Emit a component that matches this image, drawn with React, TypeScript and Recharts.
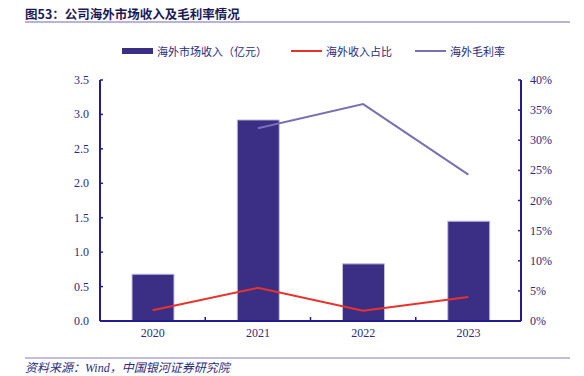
import React from 'react';
import { ComposedChart, Bar, Line, XAxis, YAxis } from 'recharts';

// 年份
const years = ['2020', '2021', '2022', '2023'];
// 海外市场收入（亿元）
const overseasRevenue = [0.68, 2.92, 0.83, 1.45];
// 海外收入占比 (%)
const overseasShare = [1.8, 5.5, 1.7, 4.0];
// 海外毛利率 (%)
const overseasMargin: (number | null)[] = [null, 32.0, 36.0, 24.3];

const leftTicks = [0, 0.5, 1, 1.5, 2, 2.5, 3, 3.5];
const rightTicks = [0, 5, 10, 15, 20, 25, 30, 35, 40];

const BAR_COLOR = '#3a2f85';
const RED = '#e8322c';
const PURPLE = '#7b70b3';
const AXIS = '#241c8a';
const TEXT = '#2b2a7c';
const CJK = '"Noto Sans CJK SC", sans-serif';
const NUM = '"Liberation Serif", "DejaVu Serif", serif';

const CHART_W = 584;
const CHART_H = 376;
const margin = { top: 80, right: 0, bottom: 25, left: 0 };
const LEFT_W = 100;
const RIGHT_W = 63;
const band = (CHART_W - LEFT_W - RIGHT_W) / years.length;

const data = years.map((y, i) => ({
    year: y,
    revenue: overseasRevenue[i],
    share: overseasShare[i],
    gm: overseasMargin[i],
}));

const legendItems = [
    { name: '海外市场收入（亿元）', color: BAR_COLOR, type: 'bar' },
    { name: '海外收入占比', color: RED, type: 'line' },
    { name: '海外毛利率', color: PURPLE, type: 'line' },
];

const numStyle = { fontFamily: NUM, fontSize: 12 };

const LeftTick = (props: any) => {
    const { x, y, payload } = props;
    return (
        <g>
            <line x1={x} x2={x + 3} y1={y} y2={y} stroke={AXIS} strokeWidth={1.5} />
            <text x={x - 11} y={y} textAnchor="end" dominantBaseline="central" fill={TEXT} style={numStyle}>
                {Number(payload.value).toFixed(1)}
            </text>
        </g>
    );
};

const RightTick = (props: any) => {
    const { x, y, payload } = props;
    return (
        <g>
            <line x1={x - 3} x2={x} y1={y} y2={y} stroke={AXIS} strokeWidth={1.5} />
            <text x={x + 9} y={y} textAnchor="start" dominantBaseline="central" fill={TEXT} style={numStyle}>
                {payload.value}%
            </text>
        </g>
    );
};

const BottomTick = (props: any) => {
    const { x, y, payload, index } = props;
    return (
        <g>
            {index < years.length - 1 && (
                <line x1={x + band / 2} x2={x + band / 2} y1={y} y2={y - 4} stroke={AXIS} strokeWidth={1.5} />
            )}
            <text x={x} y={y + 12} textAnchor="middle" dominantBaseline="central" fill={TEXT} style={numStyle}>
                {payload.value}
            </text>
        </g>
    );
};

const App: React.FC = () => {
    return (
        <div style={{ position: 'absolute', left: 0, top: 0, width: CHART_W, height: CHART_H, background: '#fff' }}>
            {/* 标题 */}
            <div style={{ position: 'absolute', left: 25, top: 5, fontFamily: CJK, fontWeight: 700, fontSize: 12.5, color: '#1c1a55', lineHeight: '17px', whiteSpace: 'nowrap' }}>
                图53：公司海外市场收入及毛利率情况
            </div>
            <div style={{ position: 'absolute', left: 25, top: 21, width: 545, height: 2, background: '#b9b3d9' }} />

            {/* 图例 */}
            {legendItems.map((item, i) => {
                const lefts = [122, 291, 415];
                return (
                    <div key={item.name} style={{ position: 'absolute', left: lefts[i], top: 43, height: 16, display: 'flex', alignItems: 'center', whiteSpace: 'nowrap' }}>
                        <span style={{ display: 'inline-block', width: 31, height: item.type === 'bar' ? 6 : 2, background: item.color }} />
                        <span style={{ marginLeft: 4, fontFamily: CJK, fontSize: 11, color: TEXT }}>{item.name}</span>
                    </div>
                );
            })}

            <div style={{ position: 'absolute', left: 0, top: 0 }}>
                <ComposedChart width={CHART_W} height={CHART_H} data={data} margin={margin}>
                    <XAxis
                        dataKey="year"
                        height={30}
                        axisLine={{ stroke: AXIS, strokeWidth: 2 }}
                        tickLine={false}
                        tickSize={0}
                        tickMargin={0}
                        tick={BottomTick}
                        interval={0}
                    />
                    <YAxis
                        yAxisId="left"
                        orientation="left"
                        width={LEFT_W}
                        domain={[0, 3.5]}
                        ticks={leftTicks}
                        axisLine={{ stroke: AXIS, strokeWidth: 2 }}
                        tickLine={false}
                        tickSize={0}
                        tickMargin={0}
                        tick={LeftTick}
                        interval={0}
                    />
                    <YAxis
                        yAxisId="right"
                        orientation="right"
                        width={RIGHT_W}
                        domain={[0, 40]}
                        ticks={rightTicks}
                        axisLine={{ stroke: AXIS, strokeWidth: 2 }}
                        tickLine={false}
                        tickSize={0}
                        tickMargin={0}
                        tick={RightTick}
                        interval={0}
                    />
                    <Bar
                        yAxisId="left"
                        dataKey="revenue"
                        fill={BAR_COLOR}
                        stroke="#c4bfe2"
                        strokeWidth={1}
                        barSize={42}
                        isAnimationActive={false}
                    />
                    <Line
                        yAxisId="right"
                        dataKey="share"
                        stroke={RED}
                        strokeWidth={2}
                        dot={false}
                        activeDot={false}
                        type="linear"
                        isAnimationActive={false}
                    />
                    <Line
                        yAxisId="right"
                        dataKey="gm"
                        stroke={PURPLE}
                        strokeWidth={2}
                        dot={false}
                        activeDot={false}
                        type="linear"
                        isAnimationActive={false}
                    />
                </ComposedChart>
            </div>

            {/* 资料来源 */}
            <div style={{ position: 'absolute', left: 25, top: 357, width: 545, height: 2, background: '#c4bde0' }} />
            <div style={{ position: 'absolute', left: 25, top: 359, fontFamily: CJK, fontStyle: 'italic', fontSize: 12, color: TEXT, lineHeight: '16px', whiteSpace: 'nowrap' }}>
                资料来源：<span style={{ fontFamily: NUM }}>Wind</span>，中国银河证券研究院
            </div>
        </div>
    );
};

export default App;
